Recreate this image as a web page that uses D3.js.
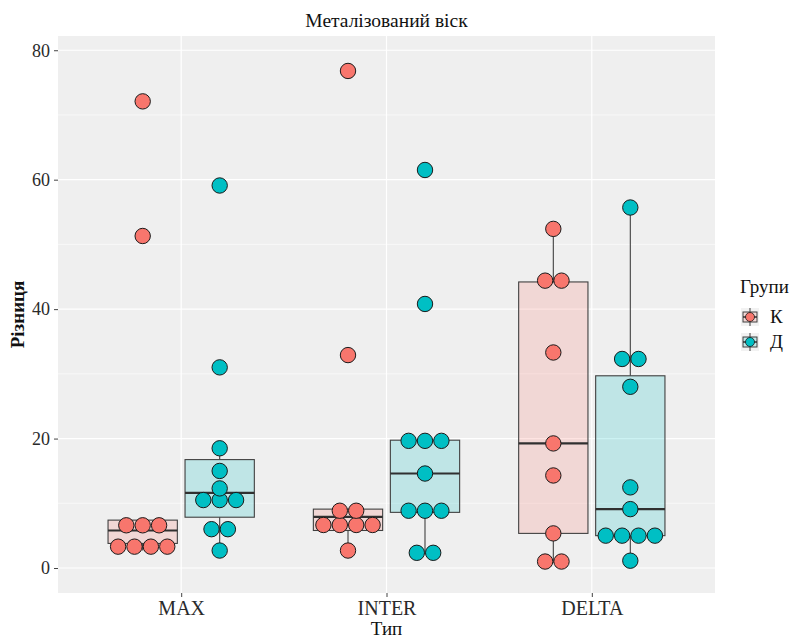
<!DOCTYPE html>
<html>
<head>
<meta charset="utf-8">
<script src="https://cdn.jsdelivr.net/npm/d3@7"></script>
<style>
  html, body { margin: 0; padding: 0; background: #ffffff; }
  svg { display: block; }
  text { font-family: "Liberation Serif", "Times New Roman", serif; }
</style>
</head>
<body>
<svg id="chart" width="794" height="639"></svg>
<script>
// Categories on the x axis and the two groups
const types = ["MAX", "INTER", "DELTA"];
const groups = ["К", "Д"];
const groupColors = ["#F8766D", "#00BFC4"];

// Observed differences per type, group К
const valuesK_MAX   = [2.7, 3.2, 3.8, 3.9, 5.8, 6.7, 7.4, 51.3, 72.1];
const valuesK_INTER = [2.7, 5.4, 5.8, 6.8, 7.9, 8.6, 9.1, 32.9, 76.8];
const valuesK_DELTA = [0.8, 1.2, 5.35, 14.3, 19.25, 33.3, 44.2, 44.6, 52.4];
// Observed differences per type, group Д
const valuesD_MAX   = [2.7, 5.7, 6.3, 9.4, 10.5, 11.6, 12.3, 15.0, 18.5, 31.0, 59.1];
const valuesD_INTER = [2.1, 2.6, 8.3, 8.9, 9.4, 14.6, 19.4, 19.6, 19.9, 40.8, 61.5];
const valuesD_DELTA = [1.13, 4.6, 4.9, 5.1, 5.4, 9.1, 12.46, 28.0, 31.4, 33.2, 55.7];

const yTicks = [0, 20, 40, 60, 80];
const yMinorTicks = [10, 30, 50, 70];

const chartTitle = "Металізований віск";
const xTitle = "Тип";
const yTitle = "Різниця";
const legendTitle = "Групи";

// Assemble the long table used for drawing
const series = [
  { type: "MAX",   group: "К", values: valuesK_MAX },
  { type: "INTER", group: "К", values: valuesK_INTER },
  { type: "DELTA", group: "К", values: valuesK_DELTA },
  { type: "MAX",   group: "Д", values: valuesD_MAX },
  { type: "INTER", group: "Д", values: valuesD_INTER },
  { type: "DELTA", group: "Д", values: valuesD_DELTA }
];

const svg = d3.select("#chart");
const panel = { left: 58, right: 715, top: 36, bottom: 593 };

const x = d3.scalePoint().domain(types).range([panel.left, panel.right]).padding(0.6);
const step = x.step();
const xGroup = d3.scaleBand().domain(groups).range([-step * 0.375, step * 0.375]);
const boxWidth = xGroup.bandwidth() * 0.9;
const y = d3.scaleLinear().domain([-3.86, 82.2]).range([panel.bottom, panel.top]);
const color = d3.scaleOrdinal().domain(groups).range(groupColors);

// Panel background and grid
svg.append("rect")
  .attr("x", panel.left).attr("y", panel.top)
  .attr("width", panel.right - panel.left).attr("height", panel.bottom - panel.top)
  .attr("fill", "#EFEFEF");

const grid = svg.append("g");
grid.selectAll("line.minor").data(yMinorTicks).join("line")
  .attr("x1", panel.left).attr("x2", panel.right)
  .attr("y1", d => y(d)).attr("y2", d => y(d))
  .attr("stroke", "#ffffff").attr("stroke-width", 0.6);
grid.selectAll("line.majorY").data(yTicks).join("line")
  .attr("x1", panel.left).attr("x2", panel.right)
  .attr("y1", d => y(d)).attr("y2", d => y(d))
  .attr("stroke", "#ffffff").attr("stroke-width", 1.2);
grid.selectAll("line.majorX").data(types).join("line")
  .attr("x1", d => x(d)).attr("x2", d => x(d))
  .attr("y1", panel.top).attr("y2", panel.bottom)
  .attr("stroke", "#ffffff").attr("stroke-width", 1.2);

// Box statistics (R type-7 quantiles, 1.5 IQR whiskers)
function boxStats(vals) {
  const s = vals.slice().sort(d3.ascending);
  const q1 = d3.quantile(s, 0.25), med = d3.quantile(s, 0.5), q3 = d3.quantile(s, 0.75);
  const iqr = q3 - q1;
  const lo = d3.min(s.filter(v => v >= q1 - 1.5 * iqr));
  const hi = d3.max(s.filter(v => v <= q3 + 1.5 * iqr));
  return { q1, med, q3, lo, hi };
}

// Dot-density binning along y
const allValues = series.flatMap(d => d.values);
const binwidth = (d3.max(allValues) - d3.min(allValues)) / 30;
function dotBins(vals) {
  const s = vals.slice().sort(d3.ascending);
  const bins = [];
  let end = -Infinity, cur = null;
  s.forEach(v => {
    if (v >= end) { cur = []; bins.push(cur); end = v + binwidth; }
    cur.push(v);
  });
  return bins.map(b => ({ center: (d3.min(b) + d3.max(b)) / 2, count: b.length }));
}
const dotDiam = Math.abs(y(binwidth) - y(0));

// Boxplots
const boxes = svg.append("g");
series.forEach(sr => {
  const st = boxStats(sr.values);
  const cx = x(sr.type) + xGroup(sr.group) + xGroup.bandwidth() / 2;
  const g = boxes.append("g");
  const stroke = "#404040";
  g.append("line").attr("x1", cx).attr("x2", cx).attr("y1", y(st.q3)).attr("y2", y(st.hi))
    .attr("stroke", stroke).attr("stroke-width", 1.1);
  g.append("line").attr("x1", cx).attr("x2", cx).attr("y1", y(st.q1)).attr("y2", y(st.lo))
    .attr("stroke", stroke).attr("stroke-width", 1.1);
  g.append("rect")
    .attr("x", cx - boxWidth / 2).attr("y", y(st.q3))
    .attr("width", boxWidth).attr("height", y(st.q1) - y(st.q3))
    .attr("fill", color(sr.group)).attr("fill-opacity", 0.2)
    .attr("stroke", stroke).attr("stroke-width", 1.1);
  g.append("line")
    .attr("x1", cx - boxWidth / 2).attr("x2", cx + boxWidth / 2)
    .attr("y1", y(st.med)).attr("y2", y(st.med))
    .attr("stroke", "#303030").attr("stroke-width", 2.2);
});

// Dots, stacked from the centre of each group
const dots = svg.append("g");
series.forEach(sr => {
  const cx = x(sr.type) + xGroup(sr.group) + xGroup.bandwidth() / 2;
  dotBins(sr.values).forEach(b => {
    for (let i = 0; i < b.count; i++) {
      dots.append("circle")
        .attr("cx", cx + (i - (b.count - 1) / 2) * dotDiam)
        .attr("cy", y(b.center))
        .attr("r", dotDiam / 2 - 0.5)
        .attr("fill", color(sr.group))
        .attr("stroke", "#1a1a1a").attr("stroke-width", 1);
    }
  });
});

// Axes
const yAxis = svg.append("g").attr("transform", `translate(${panel.left},0)`)
  .call(d3.axisLeft(y).tickValues(yTicks).tickSize(4).tickPadding(4));
const xAxis = svg.append("g").attr("transform", `translate(0,${panel.bottom})`)
  .call(d3.axisBottom(x).tickSize(4).tickPadding(4));
[yAxis, xAxis].forEach(a => {
  a.select(".domain").remove();
  a.selectAll(".tick line").attr("stroke", "#444");
  a.selectAll(".tick text").attr("fill", "#2a2a2a")
    .style("font-family", "'Liberation Serif', serif");
});
yAxis.selectAll(".tick text").style("font-size", "18px");
xAxis.selectAll(".tick text").style("font-size", "20px");

// Titles
svg.append("text").attr("x", (panel.left + panel.right) / 2).attr("y", 27)
  .attr("text-anchor", "middle").attr("font-size", 19.5).attr("fill", "#111").text(chartTitle);
svg.append("text").attr("x", x("INTER")).attr("y", 635)
  .attr("text-anchor", "middle").attr("font-size", 19).attr("fill", "#111").text(xTitle);
svg.append("text").attr("transform", `translate(24,${(panel.top + panel.bottom) / 2}) rotate(-90)`)
  .attr("text-anchor", "middle").attr("font-size", 19).attr("font-weight", "bold")
  .attr("fill", "#111").text(yTitle);

// Legend
const legend = svg.append("g").attr("transform", "translate(740,0)");
legend.append("text").attr("x", 0).attr("y", 293).attr("font-size", 19).attr("fill", "#111").text(legendTitle);
groups.forEach((gname, i) => {
  const ky = 308 + i * 25;
  const k = legend.append("g").attr("transform", `translate(1,${ky})`);
  k.append("rect").attr("x", 0).attr("y", 0).attr("width", 18).attr("height", 18).attr("fill", "#F2F2F2");
  k.append("line").attr("x1", 9).attr("x2", 9).attr("y1", 0).attr("y2", 18).attr("stroke", "#404040");
  k.append("rect").attr("x", 2).attr("y", 4).attr("width", 14).attr("height", 10)
    .attr("fill", color(gname)).attr("fill-opacity", 0.2).attr("stroke", "#404040").attr("stroke-width", 1);
  k.append("line").attr("x1", 2).attr("x2", 16).attr("y1", 9).attr("y2", 9).attr("stroke", "#303030").attr("stroke-width", 1.5);
  k.append("circle").attr("cx", 9).attr("cy", 9).attr("r", 4.5)
    .attr("fill", color(gname)).attr("stroke", "#1a1a1a").attr("stroke-width", 0.8);
  legend.append("text").attr("x", 30).attr("y", ky + 15).attr("font-size", 19).attr("fill", "#111").text(gname);
});
</script>
</body>
</html>
